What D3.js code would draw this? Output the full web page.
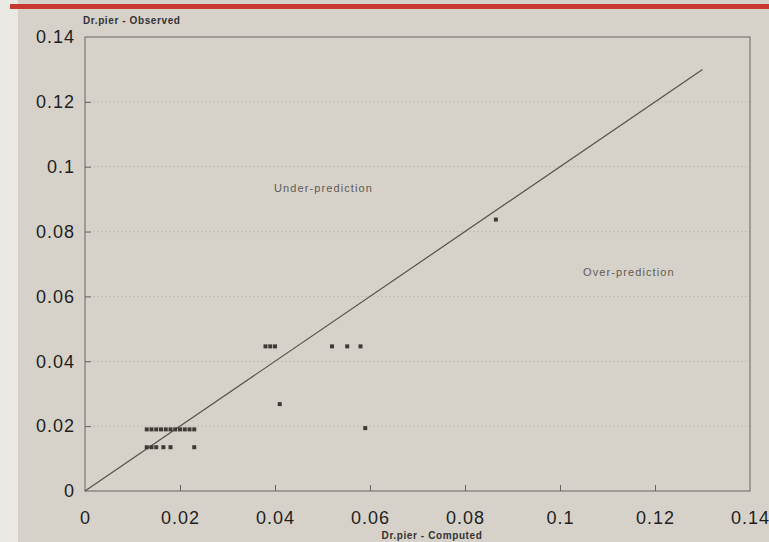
<!DOCTYPE html>
<html>
<head>
<meta charset="utf-8">
<script src="https://d3js.org/d3.v7.min.js"></script>
<style>
body { margin:0; background:#d7d2c9; }
text { font-family: "Liberation Sans", Arial, sans-serif; }
</style>
</head>
<body>
<svg width="769" height="542"></svg>
<script>
// observed vs computed Dr.pier values
var computed = [0.013, 0.014, 0.015, 0.016, 0.017, 0.018, 0.019, 0.020, 0.021, 0.022, 0.023,
                0.013, 0.014, 0.015, 0.0165, 0.018, 0.023,
                0.038, 0.039, 0.040, 0.052, 0.0552, 0.058,
                0.041, 0.059, 0.0865];
var observed = [0.019, 0.019, 0.019, 0.019, 0.019, 0.019, 0.019, 0.019, 0.019, 0.019, 0.019,
                0.0135, 0.0135, 0.0135, 0.0135, 0.0135, 0.0135,
                0.0446, 0.0446, 0.0446, 0.0446, 0.0446, 0.0446,
                0.0268, 0.0194, 0.0837];
var ticks = [0, 0.02, 0.04, 0.06, 0.08, 0.1, 0.12, 0.14];
var tickLabels = ["0", "0.02", "0.04", "0.06", "0.08", "0.1", "0.12", "0.14"];
var lineEnd = 0.13;

var svg = d3.select("svg"),
    width = +svg.attr("width"),
    height = +svg.attr("height");
var margin = {top: 37, right: 19, bottom: 51, left: 85};

// scanned page look
svg.append("rect").attr("width", width).attr("height", height).attr("fill", "#d7d2c9");
svg.append("rect").attr("width", 18).attr("height", height).attr("fill", "#ebe9e4");
svg.append("rect").attr("x", 10).attr("y", 4).attr("width", width - 10).attr("height", 5).attr("fill", "#c8392f");

var x = d3.scaleLinear().domain([0, 0.14]).range([margin.left, width - margin.right]);
var y = d3.scaleLinear().domain([0, 0.14]).range([height - margin.bottom, margin.top]);

// faint horizontal grid
svg.append("g").selectAll("line")
  .data(ticks.slice(1, -1))
  .enter().append("line")
    .attr("x1", x(0)).attr("x2", x(0.14))
    .attr("y1", function(d) { return y(d); })
    .attr("y2", function(d) { return y(d); })
    .attr("stroke", "#c2bcb2")
    .attr("stroke-dasharray", "2,2")
    .attr("stroke-width", 1);

var gx = svg.append("g")
    .attr("transform", "translate(0," + y(0) + ")")
    .call(d3.axisBottom(x).tickValues(ticks).tickSize(-6).tickPadding(20)
      .tickFormat(function(d, i) { return tickLabels[i]; }));
var gy = svg.append("g")
    .attr("transform", "translate(" + x(0) + ",0)")
    .call(d3.axisLeft(y).tickValues(ticks).tickSize(-6).tickPadding(10)
      .tickFormat(function(d, i) { return tickLabels[i]; }));

[gx, gy].forEach(function(g) {
  g.select(".domain").remove();
  g.selectAll(".tick line").attr("stroke", "#666");
  g.selectAll(".tick text")
    .attr("fill", "#1e1e1e")
    .attr("font-size", 18)
    .attr("letter-spacing", 1)
    .attr("font-family", "Liberation Sans, Arial, sans-serif");
});
gx.selectAll(".tick").filter(function(d) { return d == 0 || d == 0.14; }).select("line").remove();
gy.selectAll(".tick").filter(function(d) { return d == 0 || d == 0.14; }).select("line").remove();

// plot frame
svg.append("rect")
    .attr("x", x(0)).attr("y", y(0.14))
    .attr("width", x(0.14) - x(0)).attr("height", y(0) - y(0.14))
    .attr("fill", "none").attr("stroke", "#6a6560").attr("stroke-width", 1);

// 1:1 line
svg.append("line")
    .attr("x1", x(0)).attr("y1", y(0))
    .attr("x2", x(lineEnd)).attr("y2", y(lineEnd))
    .attr("stroke", "#55504a").attr("stroke-width", 1.2);

svg.append("g").selectAll("rect")
  .data(computed)
  .enter().append("rect")
    .attr("x", function(d) { return x(d) - 2; })
    .attr("y", function(d, i) { return y(observed[i]) - 2; })
    .attr("width", 4).attr("height", 4)
    .attr("fill", "#3e3a36");

svg.append("text")
    .attr("x", 274).attr("y", 192)
    .attr("font-size", 11).attr("letter-spacing", 1.1)
    .attr("fill", "#5f5b55")
    .text("Under-prediction");
svg.append("text")
    .attr("x", 583).attr("y", 276)
    .attr("font-size", 11).attr("letter-spacing", 1.1)
    .attr("fill", "#5f5b55")
    .text("Over-prediction");

svg.append("text")
    .attr("x", 83).attr("y", 24)
    .attr("font-size", 10).attr("font-weight", "bold").attr("letter-spacing", 0.6)
    .attr("fill", "#333")
    .text("Dr.pier - Observed");
svg.append("text")
    .attr("x", 432).attr("y", 539)
    .attr("text-anchor", "middle")
    .attr("font-size", 10).attr("font-weight", "bold").attr("letter-spacing", 0.6)
    .attr("fill", "#333")
    .text("Dr.pier - Computed");
</script>
</body>
</html>
